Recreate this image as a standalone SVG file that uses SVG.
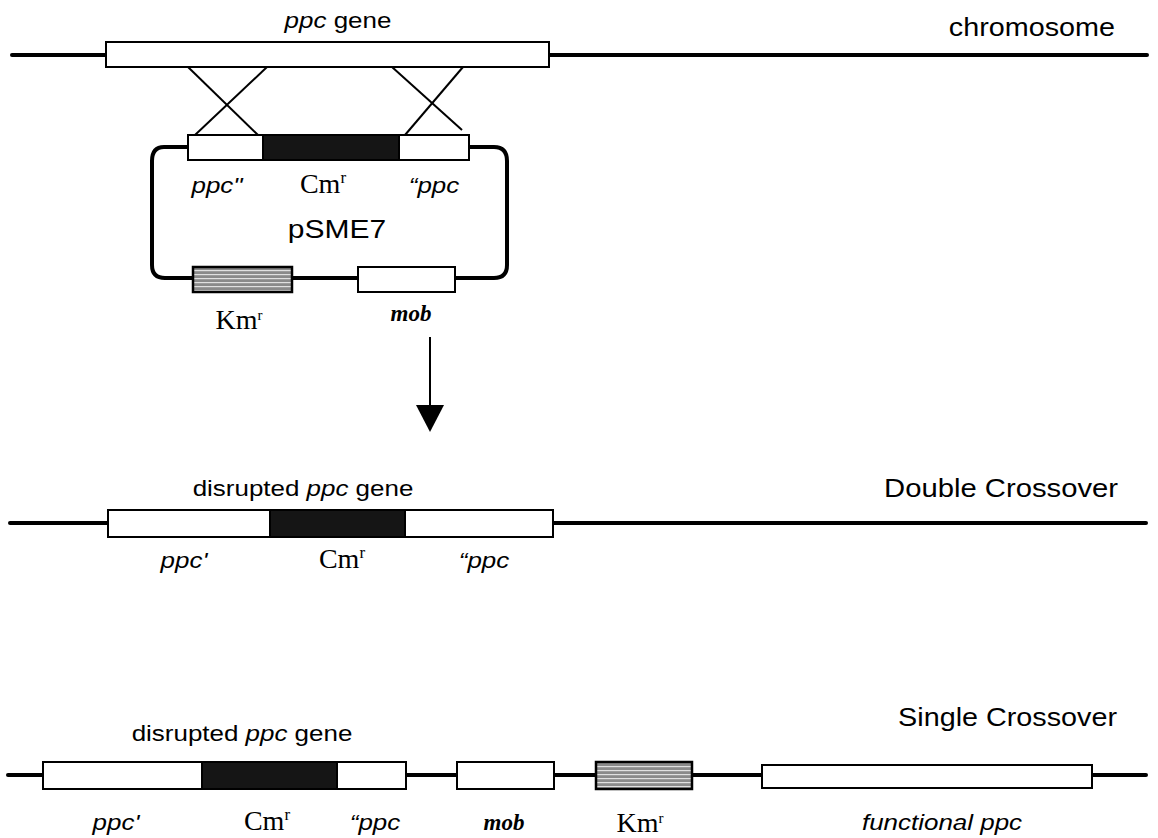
<svg xmlns="http://www.w3.org/2000/svg" width="1158" height="838" viewBox="0 0 1158 838">
<style>
.dna{stroke:#000;stroke-width:4;fill:none;stroke-linecap:round}
.w{fill:#fff;stroke:#000;stroke-width:2}
.b{fill:#151515;stroke:#000;stroke-width:2}
.k{fill:url(#hatch);stroke:#000;stroke-width:2.5}
.s{font-family:"Liberation Sans",Arial,sans-serif;font-size:22px;fill:#000}
.si{font-family:"Liberation Sans",Arial,sans-serif;font-size:22px;font-style:italic;fill:#000}
.big{font-family:"Liberation Sans",Arial,sans-serif;font-size:25px;fill:#000}
.t{font-family:"Liberation Serif","Times New Roman",serif;font-size:28px;fill:#000}
.mob{font-family:"Liberation Serif","Times New Roman",serif;font-size:23px;font-style:italic;font-weight:bold;fill:#000}
.x{stroke:#000;stroke-width:2;fill:none}
</style>
<defs>
<pattern id="hatch" width="6" height="4" patternUnits="userSpaceOnUse">
<rect width="6" height="4" fill="#8a8a8a"/>
<rect y="2" width="6" height="1.2" fill="#e0e0e0"/>
</pattern>
</defs>
<g id="connectors">
<line class="dna" x1="12" y1="55" x2="1147" y2="55"/>
<path class="dna" d="M188,147 H164 Q152,147 152,161 V265 Q152,278 165,278 H494 Q507,278 507,265 V161 Q507,147 494,147 H470"/>
<line class="dna" x1="10" y1="523" x2="1146" y2="523"/>
<line class="dna" x1="8" y1="775" x2="1146" y2="775"/>
<line class="x" x1="188" y1="67" x2="258" y2="135"/>
<line class="x" x1="267" y1="67" x2="195" y2="135"/>
<line class="x" x1="392" y1="67" x2="462" y2="130"/>
<line class="x" x1="463" y1="67" x2="405" y2="135"/>
<line x1="430" y1="337" x2="430" y2="408" stroke="#000" stroke-width="2"/>
<polygon points="416,405 444,405 430,432" fill="#000"/>
</g>
<g id="chromosome">
<rect class="w" x="106" y="42" width="443" height="25"/>
<text class="s" transform="translate(338,28) scale(1.18,1)" text-anchor="middle"><tspan font-style="italic">ppc</tspan> gene</text>
<text class="big" transform="translate(1115,36) scale(1.15,1)" text-anchor="end">chromosome</text>
</g>
<g id="pSME7">
<rect class="w" x="188" y="135" width="75" height="25"/>
<rect class="b" x="263" y="135" width="136" height="25"/>
<rect class="w" x="399" y="135" width="70" height="25"/>
<rect class="k" x="193" y="267" width="99" height="25"/>
<rect class="w" x="358" y="267" width="97" height="25"/>
<text class="si" transform="translate(217,193) scale(1.18,1)" text-anchor="middle">ppc"</text>
<text class="t" x="323" y="193" text-anchor="middle">Cm<tspan font-size="17" dy="-10">r</tspan></text>
<text class="si" transform="translate(434,193) scale(1.18,1)" text-anchor="middle">“ppc</text>
<text class="big" transform="translate(337,238) scale(1.2,1)" text-anchor="middle" font-size="24">pSME7</text>
<text class="t" x="239" y="329" text-anchor="middle" font-size="25">Km<tspan font-size="15" dy="-9">r</tspan></text>
<text class="mob" x="411" y="321" text-anchor="middle">mob</text>
</g>
<g id="double">
<rect class="w" x="108" y="510" width="162" height="27"/>
<rect class="b" x="270" y="510" width="135" height="27"/>
<rect class="w" x="405" y="510" width="148" height="27"/>
<text class="s" transform="translate(303,496) scale(1.18,1)" text-anchor="middle">disrupted <tspan font-style="italic">ppc</tspan> gene</text>
<text class="big" transform="translate(1118,497) scale(1.17,1)" text-anchor="end">Double Crossover</text>
<text class="si" transform="translate(184,568) scale(1.18,1)" text-anchor="middle">ppc'</text>
<text class="t" x="342" y="568" text-anchor="middle">Cm<tspan font-size="17" dy="-10">r</tspan></text>
<text class="si" transform="translate(484,568) scale(1.18,1)" text-anchor="middle">“ppc</text>
</g>
<g id="single">
<rect class="w" x="43" y="762" width="159" height="27"/>
<rect class="b" x="202" y="762" width="135" height="27"/>
<rect class="w" x="337" y="762" width="69" height="27"/>
<rect class="w" x="457" y="762" width="97" height="27"/>
<rect class="k" x="596" y="762" width="96" height="27"/>
<rect class="w" x="762" y="765" width="330" height="23"/>
<text class="s" transform="translate(242,741) scale(1.18,1)" text-anchor="middle">disrupted <tspan font-style="italic">ppc</tspan> gene</text>
<text class="big" transform="translate(1117,726) scale(1.15,1)" text-anchor="end">Single Crossover</text>
<text class="si" transform="translate(116,830) scale(1.18,1)" text-anchor="middle">ppc'</text>
<text class="t" x="267" y="830" text-anchor="middle">Cm<tspan font-size="17" dy="-10">r</tspan></text>
<text class="si" transform="translate(375,830) scale(1.18,1)" text-anchor="middle">“ppc</text>
<text class="mob" x="504" y="830" text-anchor="middle" font-size="22">mob</text>
<text class="t" x="640" y="832" text-anchor="middle" font-size="25">Km<tspan font-size="15" dy="-9">r</tspan></text>
<text class="si" transform="translate(942,830) scale(1.18,1)" text-anchor="middle">functional ppc</text>
</g>
</svg>
